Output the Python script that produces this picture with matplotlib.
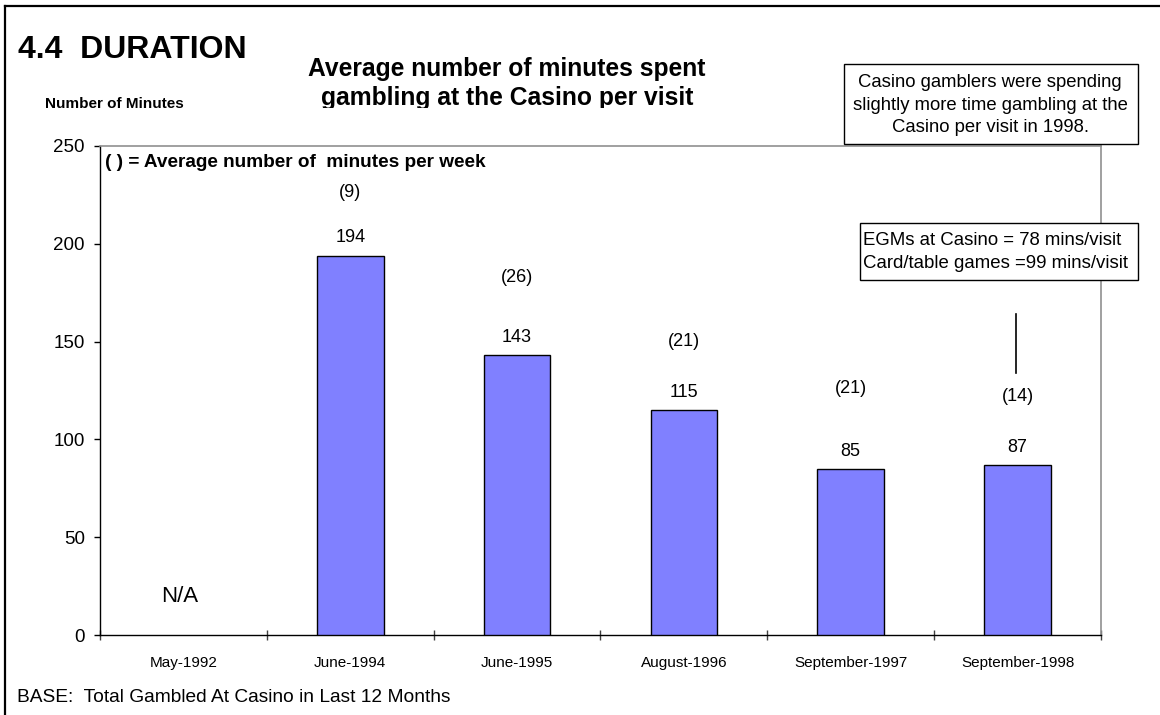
import matplotlib
matplotlib.use("Agg")
import matplotlib.pyplot as plt
from matplotlib.patches import Rectangle
from matplotlib.lines import Line2D
from matplotlib.transforms import Bbox
import numpy as np

plt.rcParams['font.family'] = ['Liberation Sans', 'DejaVu Sans']

# survey waves and average minutes per visit (May-1992 not collected)
periods = ["May-1992", "June-1994", "June-1995", "August-1996",
           "September-1997", "September-1998"]
minutes = [np.nan, 194, 143, 115, 85, 87]
weekly_labels = ["", "(9)", "(26)", "(21)", "(21)", "(14)"]
weekly_label_y = [0, 226, 183, 150, 126, 122]

W, H = 1160, 715
fig = plt.figure(figsize=(W / 100, H / 100), dpi=100)


def fx(px):
    return px / W


def fy(py):
    return 1 - py / H


ax = fig.add_axes([fx(100), fy(635), fx(1101) - fx(100), fy(146) - fy(635)])

x = np.arange(len(periods))
heights = [0 if np.isnan(m) else m for m in minutes]
bars = ax.bar(x, heights, width=0.40, color="#8080FF", edgecolor="black",
              linewidth=1.0, zorder=3)
bars[0].set_visible(False)

ax.set_xlim(-0.5, len(periods) - 0.5)
ax.set_ylim(0, 250)
ax.set_yticks(range(0, 251, 50))
ax.tick_params(axis="y", direction="out", length=4, width=1, pad=7,
               labelsize=13.5, colors="black")

# category boundaries as ticks, labels centred under each category
ax.set_xticks(np.arange(-0.5, len(periods), 1.0))
ax.set_xticklabels([])
ax.tick_params(axis="x", which="major", direction="inout", length=7, width=1,
               color="#404040")
ax.set_xticks(x, minor=True)
ax.set_xticklabels(periods, minor=True)
ax.tick_params(axis="x", which="minor", length=0, pad=15, labelsize=11)

for side in ["top", "right"]:
    ax.spines[side].set_color("#909090")
    ax.spines[side].set_linewidth(1.2)
for side in ["left", "bottom"]:
    ax.spines[side].set_color("black")
    ax.spines[side].set_linewidth(1.0)

# value labels and weekly averages
for i, m in enumerate(minutes):
    if np.isnan(m):
        continue
    ax.annotate(f"{m:.0f}", (x[i], m), xytext=(0, 9.4), textcoords="offset points",
                ha="center", va="baseline", fontsize=13)
    ax.text(x[i], weekly_label_y[i], weekly_labels[i], ha="center", va="center",
            fontsize=13)

ax.text(x[0] - 0.02, 19.5, "N/A", ha="center", va="center", fontsize=16)
ax.plot([x[5] - 0.01, x[5] - 0.01], [134, 164], color="black", lw=1.2, zorder=4)

ax.text(0.005, 0.967, "( ) = Average number of  minutes per week",
        transform=ax.transAxes, ha="left", va="center", fontsize=13.7,
        fontweight="bold")

# headings
fig.text(fx(18), fy(50), "4.4  DURATION", ha="left", va="center", fontsize=23,
         fontweight="bold")
fig.text(fx(507), fy(76), "Average number of minutes spent", ha="center",
         va="baseline", fontsize=17.7, fontweight="bold")
sub2 = fig.text(fx(507), fy(105), "gambling at the Casino per visit", ha="center",
                va="baseline", fontsize=17.7, fontweight="bold")
sub2.set_clip_box(Bbox.from_extents(0, H - 108, W, H))
sub2.set_clip_on(True)
fig.text(fx(45), fy(104), "Number of Minutes", ha="left", va="center",
         fontsize=11, fontweight="bold")
fig.text(fx(17), fy(698), "BASE:  Total Gambled At Casino in Last 12 Months",
         ha="left", va="center", fontsize=13.8)

# callout boxes
fig.add_artist(Rectangle((fx(844), fy(144)), fx(1138) - fx(844), fy(64) - fy(144),
                         transform=fig.transFigure, facecolor="white",
                         edgecolor="black", lw=1.0, zorder=5))
fig.text(fx(990), fy(105),
         "Casino gamblers were spending\nslightly more time gambling at the\n"
         "Casino per visit in 1998.",
         ha="center", va="center", fontsize=13.3, linespacing=1.45, zorder=6)
fig.add_artist(Rectangle((fx(860), fy(280)), fx(1138) - fx(860), fy(223) - fy(280),
                         transform=fig.transFigure, facecolor="white",
                         edgecolor="black", lw=1.0, zorder=5))
fig.text(fx(863), fy(252),
         "EGMs at Casino = 78 mins/visit\nCard/table games =99 mins/visit",
         ha="left", va="center", fontsize=13.4, linespacing=1.45, zorder=6)

# page frame
fig.add_artist(Line2D([fx(5), fx(5)], [fy(6), 0], transform=fig.transFigure,
                      color="black", lw=1.6))
fig.add_artist(Line2D([fx(5), 1], [fy(6), fy(6)], transform=fig.transFigure,
                      color="black", lw=1.6))

fig.savefig("out.png", dpi=100)
